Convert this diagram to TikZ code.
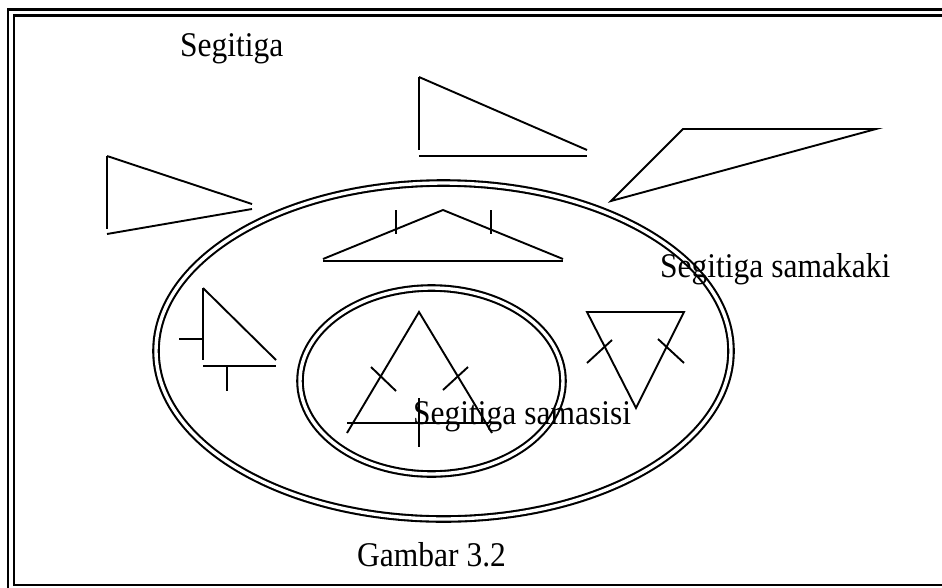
\documentclass[tikz,border=0pt]{standalone}
\usepackage{fontspec}
\setmainfont{Liberation Serif}
\newcommand{\tallface}[1]{\scalebox{1}[1.1]{#1}}
\begin{document}
\begin{tikzpicture}[x=1pt,y=-1pt,
  edge/.style={line width=1.9pt,line cap=butt},
  ring/.style={line width=2.1pt,double=white,double distance=3.4pt},
  frameline/.style={line width=2.4pt},
  label/.style={anchor=base west,inner sep=0pt,font=\fontsize{31.5}{36}\selectfont}]
\useasboundingbox (0,0) rectangle (942,587);
\clip (0,0) rectangle (942,587);

% double frame (runs past the right and lower edges)
\draw[frameline] (8,9.5) rectangle (960,600);
\draw[line width=2.1pt] (14,15.5) rectangle (960,585);

% sets
\draw[ring] (443.5,351) ellipse [x radius=287.5, y radius=168];
\draw[ring] (431.5,381) ellipse [x radius=131.5, y radius=93];

% scalene triangles outside the sets
\draw[edge] (107,156) -- (107,229);
\draw[edge] (107,156) -- (252,204);
\draw[edge] (107,234) -- (252,209);

\draw[edge] (419,77) -- (419,150);
\draw[edge] (419,77) -- (587,150);
\draw[edge] (419,156) -- (587,156);

\draw[edge] (683,129) -- (876,129) -- (611,201) -- cycle;

% obtuse isosceles triangle
\draw[edge] (323,259) -- (443,210) -- (563,259);
\draw[edge] (323,261) -- (563,261);
\draw[edge] (396,210) -- (396,234);
\draw[edge] (491,210) -- (491,234);

% right isosceles triangle
\draw[edge] (203,288) -- (203,360);
\draw[edge] (203,288) -- (276,360);
\draw[edge] (203,366) -- (276,366);
\draw[edge] (179,339) -- (203,339);
\draw[edge] (227,366) -- (227,391);

% equilateral triangle in the inner set
\draw[edge] (347,433) -- (419,312) -- (492,433);
\draw[edge] (347,423) -- (489,423);
\draw[edge] (419,398) -- (419,447);
\draw[edge] (371,367) -- (396,391);
\draw[edge] (468,367) -- (443,390);

% inverted isosceles triangle
\draw[edge] (587,312) -- (684,312) -- (636,408) -- cycle;
\draw[edge] (587,363) -- (612,340);
\draw[edge] (658,339) -- (684,363);

% labels
\node[label] (all) at (180,56) {\tallface{Segitiga}};
\node[label] (iso) at (660,277) {\tallface{Segitiga samakaki}};
\node[label] (equi) at (413,424) {\tallface{Segitiga samasisi}};
\node[label] (cap) at (357,566) {\tallface{Gambar 3.2}};
\end{tikzpicture}
\end{document}
